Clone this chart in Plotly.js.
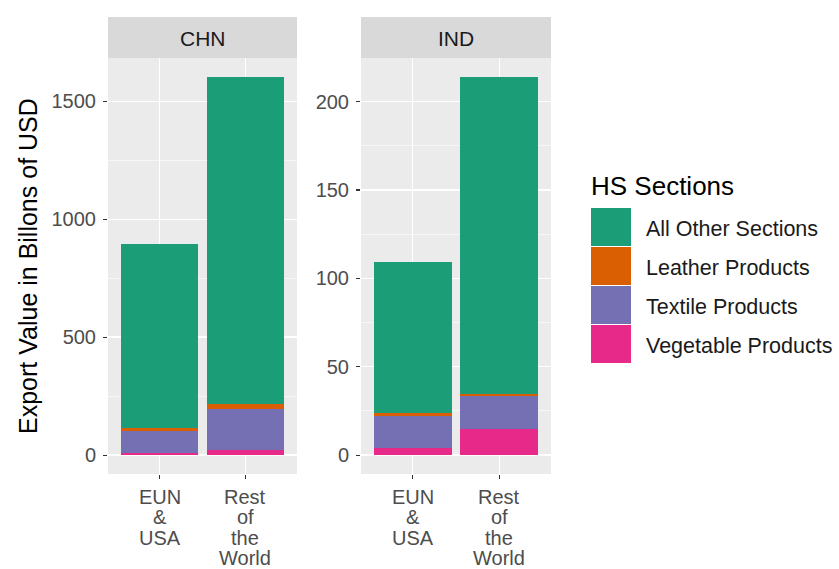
<!DOCTYPE html>
<html>
<head>
<meta charset="utf-8">
<script src="https://cdn.plot.ly/plotly-3.0.1.min.js"></script>
<style>
  html, body { margin: 0; padding: 0; background: #ffffff; }
  #chart { width: 839px; height: 569px; }
</style>
</head>
<body>
<div id="chart"></div>
<script>
// Export value (billions of USD) by destination, split by HS section
const destinations = ["EUN & USA", "Rest of the World"];
const destinationLabels = [["EUN", "&", "USA"], ["Rest", "of", "the", "World"]];
const sections = ["All Other Sections", "Leather Products", "Textile Products", "Vegetable Products"];
const sectionColors = ["#1B9E77", "#D95F02", "#7570B3", "#E7298A"];
const panels = ["CHN", "IND"];

const chnVegetable = [10, 23];
const chnTextile   = [92, 173];
const chnLeather   = [14, 21];
const chnOther     = [777, 1386];

const indVegetable = [4.1, 14.8];
const indTextile   = [18.2, 18.9];
const indLeather   = [1.8, 1.1];
const indOther     = [84.9, 179.2];

const chnTicks = [0, 500, 1000, 1500];
const indTicks = [0, 50, 100, 150, 200];

// pixel -> paper helpers for layout placement
const W = 839, H = 569;
const px = x => x / W;
const py = y => 1 - y / H;

const panelTop = 58, panelBottom = 474, stripTop = 17;
const panelX = [[108, 297], [361, 551]];
const FONT = "Liberation Sans, Arial, sans-serif";

function stackTraces(series, xa, ya) {
  // bottom to top: Vegetable, Textile, Leather, Other
  const order = [3, 2, 1, 0];
  return order.map(i => ({
    type: "bar",
    x: destinations,
    y: series[i],
    name: sections[i],
    xaxis: xa,
    yaxis: ya,
    marker: { color: sectionColors[i], line: { width: 0 } },
    showlegend: false,
    hoverinfo: "skip"
  }));
}

const data = [
  ...stackTraces([chnOther, chnLeather, chnTextile, chnVegetable], "x", "y"),
  ...stackTraces([indOther, indLeather, indTextile, indVegetable], "x2", "y2")
];

function totals(a, b, c, d) { return a.map((v, i) => v + b[i] + c[i] + d[i]); }
const chnMax = Math.max(...totals(chnVegetable, chnTextile, chnLeather, chnOther));
const indMax = Math.max(...totals(indVegetable, indTextile, indLeather, indOther));

const tickFont = { family: FONT, size: 20, color: "#4D4D4D" };

function xAxis(domain, anchor) {
  return {
    domain: domain,
    anchor: anchor,
    type: "category",
    categoryarray: destinations,
    range: [-0.6, 1.6],
    tickmode: "array",
    tickvals: destinations,
    showticklabels: false,
    ticks: "outside", ticklen: 4, tickwidth: 1.1, tickcolor: "#333333",
    showgrid: true, gridcolor: "#FFFFFF", gridwidth: 1.3,
    showline: false, zeroline: false, fixedrange: true,
    automargin: false
  };
}

function yAxis(domain, max, ticks, dtick, anchor) {
  return {
    domain: domain,
    anchor: anchor,
    range: [-0.05 * max, 1.05 * max],
    tickmode: "array",
    tickvals: ticks,
    tickfont: tickFont,
    ticklabelstandoff: 3,
    ticks: "outside", ticklen: 4, tickwidth: 1.1, tickcolor: "#333333",
    showgrid: true, gridcolor: "#FFFFFF", gridwidth: 1.3,
    minor: { dtick: dtick / 2, tick0: 0, showgrid: true, gridcolor: "#FFFFFF", gridwidth: 0.6, ticks: "" },
    zeroline: false, showline: false, fixedrange: true,
    automargin: false
  };
}

const yDomain = [py(panelBottom), py(panelTop)];

const shapes = [];
const annotations = [];

// multi-line category labels under each facet, one line at a time
const labelFirstLine = 496.5, labelLineStep = 20.6;
["x", "x2"].forEach(xref => {
  destinations.forEach((d, j) => {
    destinationLabels[j].forEach((line, k) => {
      annotations.push({
        xref: xref, yref: "paper",
        x: d, y: py(labelFirstLine + k * labelLineStep),
        text: line, showarrow: false,
        xanchor: "center", yanchor: "middle",
        font: tickFont
      });
    });
  });
});

// facet strips
panelX.forEach((xs, i) => {
  shapes.push({
    type: "rect", xref: "paper", yref: "paper",
    x0: px(xs[0]), x1: px(xs[1]), y0: py(panelTop), y1: py(stripTop),
    fillcolor: "#D9D9D9", line: { width: 0 }, layer: "below"
  });
  annotations.push({
    xref: "paper", yref: "paper",
    x: px((xs[0] + xs[1]) / 2), y: py((panelTop + stripTop) / 2 + 1),
    text: panels[i], showarrow: false,
    xanchor: "center", yanchor: "middle",
    font: { family: FONT, size: 21, color: "#1A1A1A" }
  });
});

// y axis title
annotations.push({
  xref: "paper", yref: "paper",
  x: px(28), y: py((panelTop + panelBottom) / 2),
  text: "Export Value in Billons of USD", textangle: -90,
  showarrow: false, xanchor: "center", yanchor: "middle",
  font: { family: FONT, size: 25, color: "#000000" }
});

// legend
annotations.push({
  xref: "paper", yref: "paper",
  x: px(589), y: py(186),
  text: "HS Sections", showarrow: false, xanchor: "left", yanchor: "middle",
  font: { family: FONT, size: 26, color: "#000000" }
});
const keyTop = 208, keyH = 39, keyX0 = 591, keyX1 = 631;
sections.forEach((s, i) => {
  const y0 = keyTop + i * keyH;
  shapes.push({
    type: "rect", xref: "paper", yref: "paper",
    x0: px(keyX0), x1: px(keyX1), y0: py(y0 + keyH - 1), y1: py(y0),
    fillcolor: sectionColors[i], line: { width: 0 }
  });
  annotations.push({
    xref: "paper", yref: "paper",
    x: px(644), y: py(y0 + keyH / 2 + 1),
    text: s, showarrow: false, xanchor: "left", yanchor: "middle",
    font: { family: FONT, size: 21.5, color: "#1A1A1A" }
  });
});

const layout = {
  width: W, height: H,
  margin: { l: 0, r: 0, t: 0, b: 0 },
  paper_bgcolor: "#FFFFFF",
  plot_bgcolor: "#EBEBEB",
  barmode: "stack",
  bargap: 0.1,
  showlegend: false,
  xaxis: xAxis([px(panelX[0][0]), px(panelX[0][1])], "y"),
  yaxis: yAxis(yDomain, chnMax, chnTicks, 500, "x"),
  xaxis2: xAxis([px(panelX[1][0]), px(panelX[1][1])], "y2"),
  yaxis2: yAxis(yDomain, indMax, indTicks, 50, "x2"),
  shapes: shapes,
  annotations: annotations
};

Plotly.newPlot("chart", data, layout, { staticPlot: true, displayModeBar: false });
</script>
</body>
</html>
